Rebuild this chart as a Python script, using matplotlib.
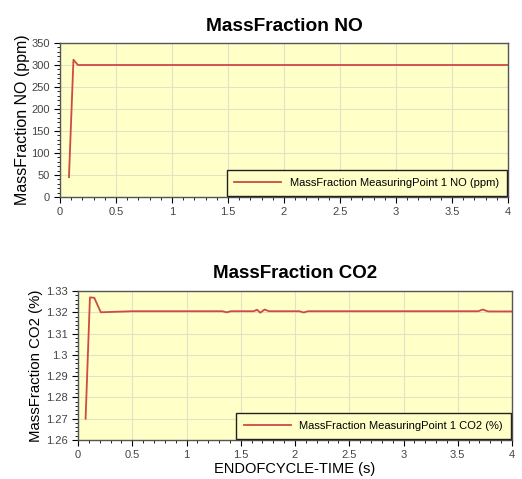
import matplotlib
matplotlib.use("Agg")
import matplotlib.pyplot as plt
from matplotlib.ticker import MultipleLocator, FuncFormatter

plt.rcParams["font.family"] = ["Liberation Sans", "DejaVu Sans"]

no_t = [0.08, 0.12, 0.16, 0.5, 1.0, 2.0, 3.0, 4.0]
no_v = [45, 312, 300, 300, 300, 300, 300, 300]

co2_t = [0.07, 0.11, 0.15, 0.21, 0.5, 1.0, 1.33, 1.37, 1.41, 1.62, 1.65, 1.68, 1.72, 1.76, 2.04, 2.08, 2.12, 3.69, 3.73, 3.78, 4.0]
co2_v = [1.27, 1.327, 1.3268, 1.3200, 1.3205, 1.3205, 1.3205, 1.3200, 1.3205, 1.3205, 1.3212, 1.3198, 1.3213, 1.3205, 1.3205, 1.3199, 1.3205, 1.3205, 1.3213, 1.3204, 1.3204]

bg = "#FFFFC8"
red = "#D04848"

fig = plt.figure(figsize=(5.22, 4.79), dpi=100)
ax1 = fig.add_axes([60/522, 1-197/479, 448/522, 154/479])
ax2 = fig.add_axes([78/522, 1-440/479, 434/522, 149/479])

for ax in (ax1, ax2):
    ax.set_facecolor(bg)
    ax.grid(True, which="major", color="#E2E2C8", linewidth=0.8)
    ax.set_xlim(0, 4)
    ax.xaxis.set_major_locator(MultipleLocator(0.5))
    ax.xaxis.set_minor_locator(MultipleLocator(0.1))
    ax.tick_params(which="major", labelsize=8, labelcolor="#444444", length=4, direction="out")
    ax.tick_params(which="minor", length=2, direction="out")
    for s in ax.spines.values():
        s.set_color("#555555")
        s.set_linewidth(1.0)
    ax.xaxis.set_major_formatter(FuncFormatter(lambda v, p: f"{v:g}"))

def style_legend(ax):
    leg = ax.legend(loc="lower right", fontsize=8, frameon=True, fancybox=False,
                    borderaxespad=0.1, handlelength=4.2, borderpad=0.7, handletextpad=0.8)
    fr = leg.get_frame()
    fr.set_edgecolor("#222222")
    fr.set_facecolor(bg)
    fr.set_alpha(1)
    fr.set_linewidth(1.0)

ax1.plot(no_t, no_v, color=red, lw=1.3, label="MassFraction MeasuringPoint 1 NO (ppm)")
ax1.set_ylim(0, 350)
ax1.yaxis.set_major_locator(MultipleLocator(50))
ax1.yaxis.set_minor_locator(MultipleLocator(10))
ax1.set_title("MassFraction NO", fontsize=13.8, fontweight="bold", pad=9)
ax1.set_ylabel("MassFraction NO (ppm)", fontsize=11.5, labelpad=1)
style_legend(ax1)

ax2.plot(co2_t, co2_v, color=red, lw=1.3, label="MassFraction MeasuringPoint 1 CO2 (%)")
ax2.set_ylim(1.26, 1.33)
ax2.yaxis.set_major_locator(MultipleLocator(0.01))
ax2.yaxis.set_minor_locator(MultipleLocator(0.002))
ax2.yaxis.set_major_formatter(FuncFormatter(lambda v, p: f"{round(v, 3):g}"))
ax2.set_title("MassFraction CO2", fontsize=13.5, fontweight="bold", pad=9)
ax2.set_ylabel("MassFraction CO2 (%)", fontsize=10.8, labelpad=2)
ax2.set_xlabel("ENDOFCYCLE-TIME (s)", fontsize=10.5, labelpad=1)
style_legend(ax2)

fig.savefig("out.png", dpi=100)
